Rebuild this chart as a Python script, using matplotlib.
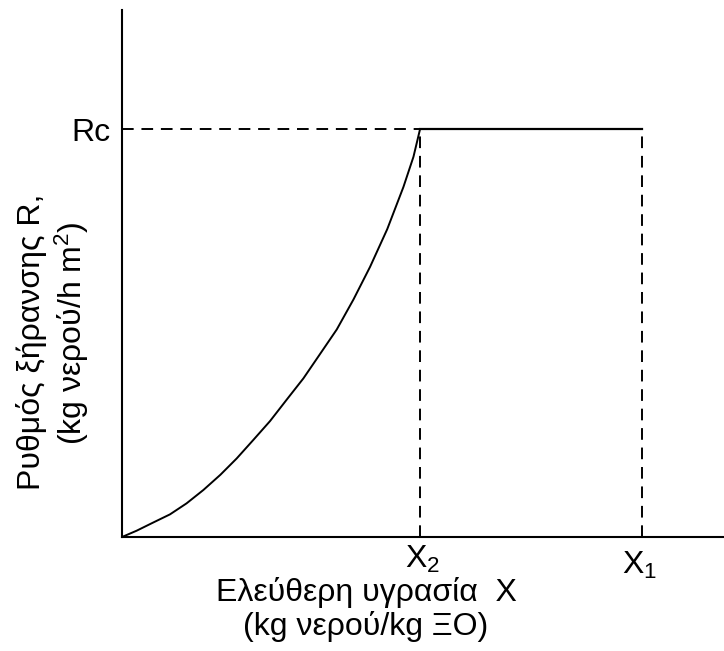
import numpy as np
import matplotlib.pyplot as plt

plt.rcParams['font.family'] = ['Liberation Sans', 'DejaVu Sans']
plt.rcParams['mathtext.fontset'] = 'custom'
plt.rcParams['mathtext.rm'] = 'Liberation Sans'
plt.rcParams['mathtext.it'] = 'Liberation Sans'

# falling-rate curve (moisture X, rate R)
curve_x = [0.0, 0.148, 0.31, 0.483, 0.65, 0.819, 0.99, 1.155, 1.32, 1.49,
           1.66, 1.826, 1.99, 2.162, 2.33, 2.497, 2.67, 2.833, 2.934, 3.0]
curve_r = [0.0, 0.062, 0.14, 0.222, 0.33, 0.461, 0.61, 0.771, 0.95, 1.137,
           1.35, 1.556, 1.79, 2.036, 2.33, 2.65, 3.02, 3.434, 3.73, 4.0]
x2 = 3.0
x1 = 5.23
rc = 4.0
tick_labels = [r'$\mathrm{X}_2$', r'$\mathrm{X}_1$']

W, H = 724, 651
fig = plt.figure(figsize=(W / 100, H / 100), dpi=100)
ax = fig.add_axes([122 / W, (H - 537) / H, (W - 122) / W, (537 - 10) / H])

ax.plot(curve_x, curve_r, color='black', lw=1.4)
ax.plot([x2, x1], [rc, rc], color='black', lw=1.6)
ax.plot([0, x2], [rc, rc], color='black', lw=1.4, dashes=(6, 4))
ax.plot([x2, x2], [0, rc], color='black', lw=1.4, dashes=(6, 4))
ax.plot([x1, x1], [0, rc], color='black', lw=1.4, dashes=(6, 4))

ax.set_xlim(0, 6.06)
ax.set_ylim(0, 5.17)
for s in ['top', 'right']:
    ax.spines[s].set_visible(False)
for s in ['left', 'bottom']:
    ax.spines[s].set_linewidth(1.5)

fs = 23
ax.set_xticks([])
ax.set_yticks([rc])
ax.set_yticklabels(['Rc'], fontsize=fs)
ax.tick_params(axis='both', length=0)
ax.tick_params(axis='y', pad=8)

# X2 / X1 labels sit at slightly different heights in the original
offsets = [(2, -7), (-2, -13)]
for xv, lab, off in zip([x2, x1], tick_labels, offsets):
    ax.annotate(lab, xy=(xv, 0), xycoords=('data', 'axes fraction'),
                xytext=off, textcoords='offset pixels', fontsize=fs,
                ha='center', va='top', annotation_clip=False)

fig.text(366 / W, 1 - 593 / H, 'Ελεύθερη υγρασία  X', fontsize=fs,
         ha='center', va='center')
fig.text(366 / W, 1 - 626 / H, '(kg νερού/kg ΞΟ)', fontsize=fs,
         ha='center', va='center')

fig.text(32 / W, 1 - 342 / H, 'Ρυθμός ξήρανσης R,', fontsize=fs,
         ha='center', va='center', rotation=90)
fig.text(72 / W, 1 - 333 / H, r'(kg νερού/h m$^2$)', fontsize=fs,
         ha='center', va='center', rotation=90)

fig.savefig('out.png', dpi=100)
